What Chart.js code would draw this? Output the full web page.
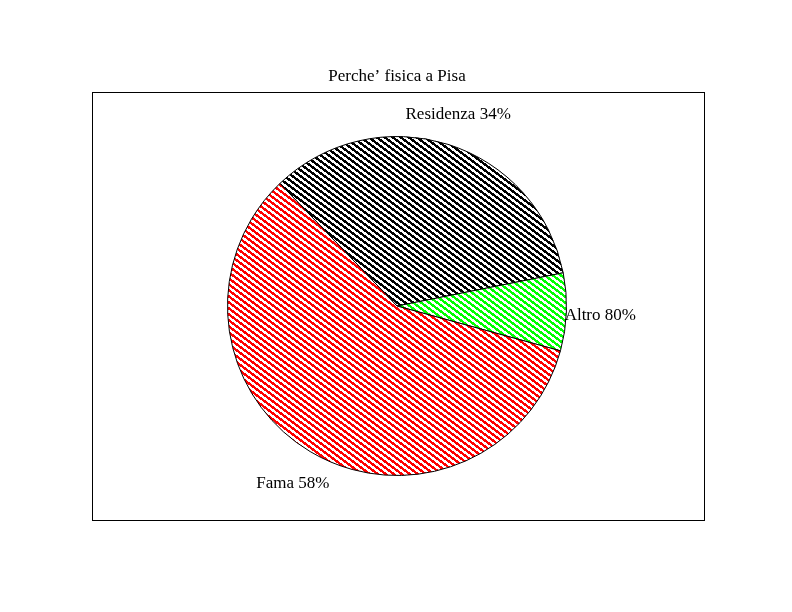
<!DOCTYPE html>
<html>
<head>
<meta charset="utf-8">
<title>Perche' fisica a Pisa</title>
<script src="https://cdn.jsdelivr.net/npm/chart.js@4.4.1/dist/chart.umd.min.js"></script>
<style>
  html, body { margin: 0; padding: 0; background: #fff; }
  canvas { display: block; }
</style>
</head>
<body>
<canvas id="pieChart" width="792" height="612"></canvas>
<script>
// dati
const categorie = ['Residenza', 'Altro', 'Fama'];
const valori = [34, 7.4, 58.6];
const etichette = ['Residenza 34%', 'Altro 80%', 'Fama 58%'];
const coloriTratteggio = [[0, 0, 0], [0, 255, 0], [255, 0, 0]];

const FONT = '"Liberation Serif", "Times New Roman", serif';

// tratteggio diagonale "\" a pixel netti (periodo 8px orizzontale, 6px verticale)
function makeHatch(rgb) {
  const tile = document.createElement('canvas');
  tile.width = 8;
  tile.height = 6;
  const c = tile.getContext('2d');
  const img = c.createImageData(8, 6);
  for (let y = 0; y < 6; y++) {
    for (let x = 0; x < 8; x++) {
      const k = (((x - y * 4 / 3) % 8) + 8) % 8;
      const on = k < 4;
      const i = (y * 8 + x) * 4;
      img.data[i] = on ? rgb[0] : 255;
      img.data[i + 1] = on ? rgb[1] : 255;
      img.data[i + 2] = on ? rgb[2] : 255;
      img.data[i + 3] = 255;
    }
  }
  c.putImageData(img, 0, 0);
  return c.createPattern(tile, 'repeat');
}

const ctx = document.getElementById('pieChart').getContext('2d');

// cornice + etichette delle fette
const cornicePlugin = {
  id: 'cornice',
  beforeDraw(chart) {
    const g = chart.ctx;
    g.save();
    g.fillStyle = '#fff';
    g.fillRect(0, 0, chart.width, chart.height);
    g.strokeStyle = '#000';
    g.lineWidth = 1;
    g.strokeRect(92.5, 92.5, 612, 428);
    g.restore();
  },
  afterDatasetsDraw(chart) {
    const g = chart.ctx;
    const meta = chart.getDatasetMeta(0);
    g.save();
    g.fillStyle = '#000';
    g.font = '17px ' + FONT;
    g.textAlign = 'center';
    g.textBaseline = 'middle';
    meta.data.forEach((arc, i) => {
      const p = arc.getProps(['x', 'y', 'startAngle', 'endAngle', 'outerRadius'], true);
      const mid = (p.startAngle + p.endAngle) / 2;
      const r = p.outerRadius * 1.2;
      g.fillText(etichette[i], p.x + Math.cos(mid) * r, p.y + Math.sin(mid) * r + 2.5);
    });
    g.restore();
  }
};

new Chart(ctx, {
  type: 'pie',
  data: {
    labels: categorie,
    datasets: [{
      data: valori,
      backgroundColor: coloriTratteggio.map(makeHatch),
      borderColor: '#000',
      borderWidth: 1,
      hoverOffset: 0
    }]
  },
  options: {
    responsive: false,
    animation: false,
    rotation: -43.7,
    layout: {
      padding: { top: 66, bottom: 136, left: 227, right: 225 }
    },
    plugins: {
      legend: { display: false },
      tooltip: { enabled: false },
      title: {
        display: true,
        text: 'Perche\u2019 fisica a Pisa',
        color: '#000',
        font: { family: FONT, size: 17, weight: 'normal', lineHeight: 1.2 },
        padding: { top: 0, bottom: 49.6 }
      }
    }
  },
  plugins: [cornicePlugin]
});
</script>
</body>
</html>
